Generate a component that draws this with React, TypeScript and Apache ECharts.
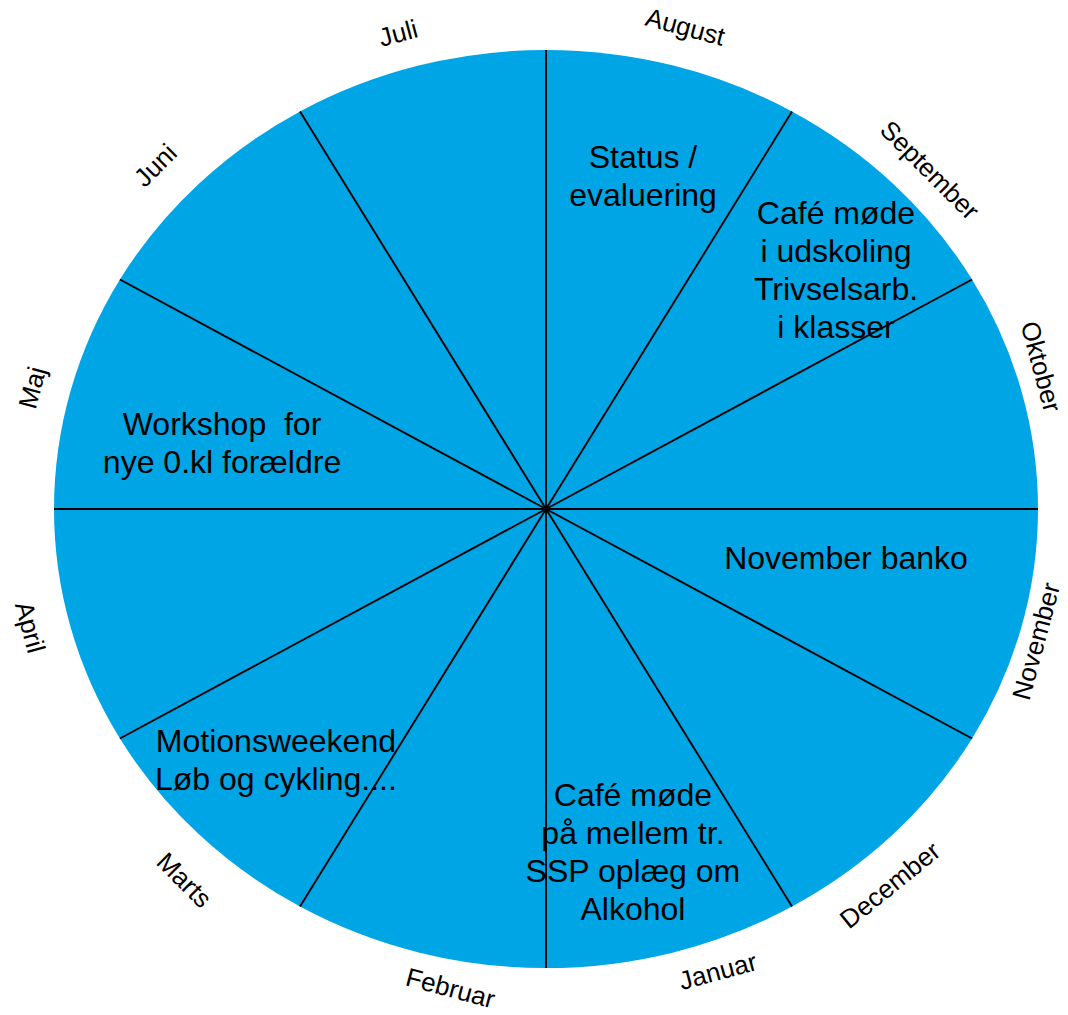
import React, { useEffect, useRef } from "react";
import * as echarts from "echarts";

// ---- data ----
const months = [
  "August", "September", "Oktober", "November", "December", "Januar",
  "Februar", "Marts", "April", "Maj", "Juni", "Juli",
];
const monthValues = [1, 1, 1, 1, 1, 1, 1, 1, 1, 1, 1, 1];
const noteMonths = ["August", "September", "November", "Januar", "Marts", "Maj"];
const noteTexts = [
  "Status /\nevaluering",
  "Café møde\ni udskoling\nTrivselsarb.\ni klasser",
  "November banko",
  "Café møde\npå mellem tr.\nSSP oplæg om\nAlkohol",
  "Motionsweekend\nLøb og cykling....",
  "Workshop  for\nnye 0.kl forældre",
];

// ---- layout ----
const CX = 546;
const CY = 509;
const RX = 492;
const RY = 459;
const LABEL_A = 528;
const LABEL_B = 500;
const labelAngleShift = [-0.3, -2, 1.9, -0.9, -4.1, 4.4, 4.3, 2.3, -1.4, 1, 2.1, 1.4];
const labelRadiusScale = [1.0, 0.994, 0.98, 0.965, 0.995, 0.98, 0.975, 1.01, 1.005, 1.003, 1.01, 0.992];
const labelRotationShift = [0, 0, 0, 0, -6, 0, 0, 0, 0, 0, 0, 0];
// note placement: [angle (deg, math), fraction of radius]
const notePlacement = [
  [74.8, 0.752],
  [41.5, 0.787],
  [-9.9, 0.619],
  [-76.7, 0.768],
  [224.9, 0.775],
  [167.7, 0.674],
];
const FILL = "#00A5E5";
const FONT = '"Liberation Sans", Arial, sans-serif';

export default function App() {
  const ref = useRef<HTMLDivElement>(null);

  useEffect(() => {
    document.body.style.margin = "0";
    if (!ref.current) return;
    const chart = echarts.init(ref.current, undefined, { renderer: "svg" });
    const total = monthValues.reduce((a, b) => a + b, 0);
    const cum: number[] = [];
    let acc = 0;
    monthValues.forEach((v) => {
      cum.push(acc);
      acc += v;
    });
    const D = Math.PI / 180;

    const renderItem = (params: any, api: any) => {
      const i = params.dataIndex;
      const v = api.value(1);
      const startMath = 90 - (360 * cum[i]) / total;
      const endMath = startMath - (360 * v) / total;
      const midMath = (startMath + endMath) / 2;
      let m = midMath;
      while (m > 180) m -= 360;
      while (m <= -180) m += 360;
      const rot = (m > 0 ? m - 90 : m + 90) + labelRotationShift[i];
      const la = (m + labelAngleShift[i]) * D;
      const ls = labelRadiusScale[i];
      const children: any[] = [
        {
          type: "sector",
          x: CX,
          y: CY,
          scaleY: RY / RX,
          z2: 0,
          shape: {
            cx: 0,
            cy: 0,
            r0: 0,
            r: RX,
            startAngle: -startMath * D,
            endAngle: -endMath * D,
            clockwise: true,
          },
          style: { fill: FILL, stroke: null },
        },
        {
          type: "line",
          z2: 10,
          shape: {
            x1: CX,
            y1: CY,
            x2: CX + RX * Math.cos(startMath * D),
            y2: CY - RY * Math.sin(startMath * D),
          },
          style: { stroke: "#000", lineWidth: 1.9 },
        },
        {
          type: "text",
          z2: 10,
          x: CX + LABEL_A * ls * Math.cos(la),
          y: CY - LABEL_B * ls * Math.sin(la),
          rotation: rot * D,
          style: {
            text: months[i],
            fill: "#000",
            fontSize: 26,
            fontFamily: FONT,
            align: "center",
            verticalAlign: "middle",
          },
        },
      ];
      const ni = noteMonths.indexOf(months[i]);
      if (ni >= 0) {
        const [na, nf] = notePlacement[ni];
        children.push({
          type: "text",
          z2: 10,
          x: CX + RX * nf * Math.cos(na * D),
          y: CY - RY * nf * Math.sin(na * D),
          style: {
            text: noteTexts[ni],
            fill: "#000",
            fontSize: 32,
            lineHeight: 38,
            fontFamily: FONT,
            align: "center",
            verticalAlign: "middle",
          },
        });
      }
      return { type: "group", children };
    };

    chart.setOption({
      animation: false,
      series: [
        {
          type: "custom",
          coordinateSystem: "none",
          renderItem,
          data: months.map((_, i) => [i, monthValues[i]]),
          silent: true,
        },
      ],
    });
    return () => chart.dispose();
  }, []);

  return <div ref={ref} style={{ width: 1068, height: 1015 }} />;
}
